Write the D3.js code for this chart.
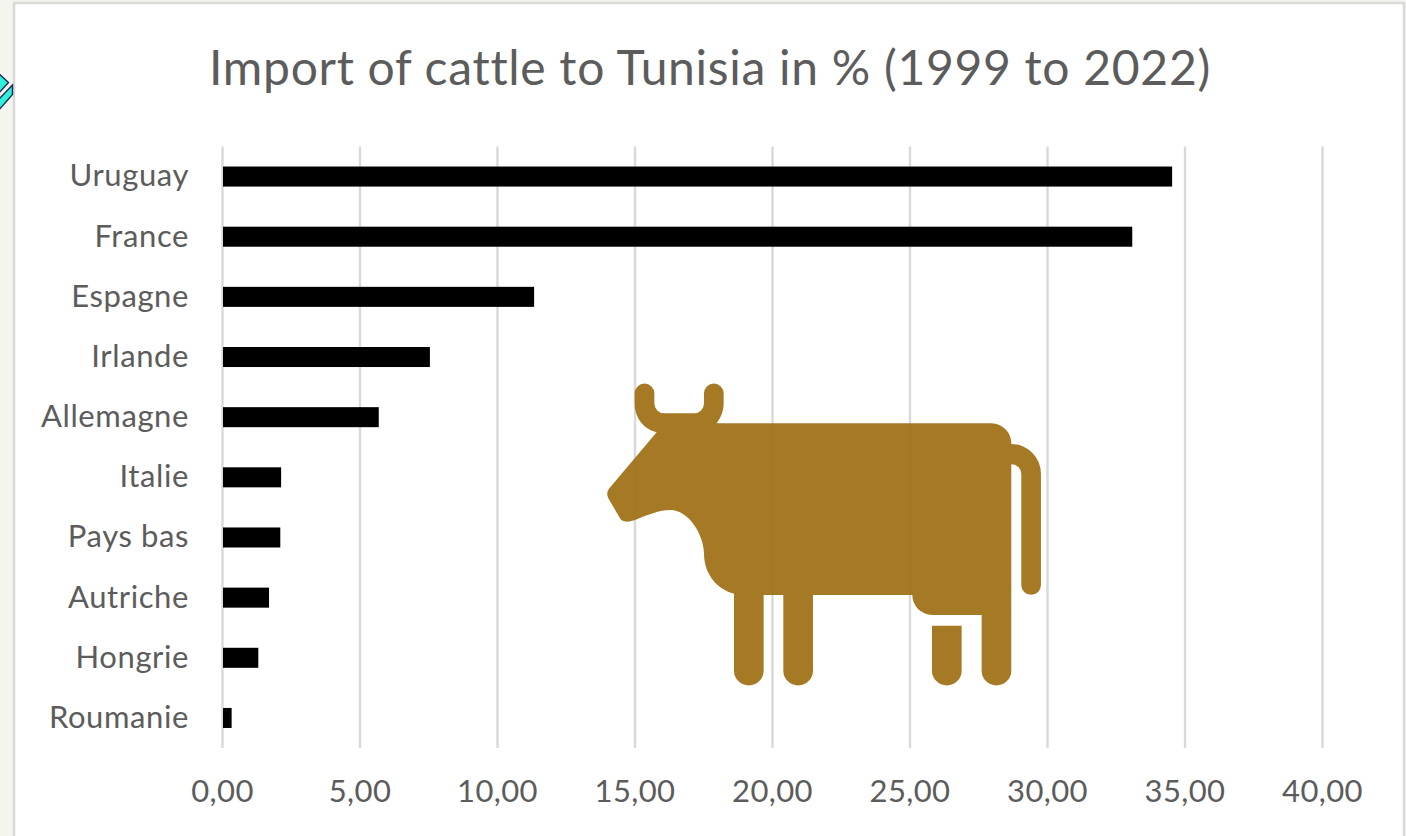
<!DOCTYPE html>
<html>
<head>
<meta charset="utf-8">
<script src="https://cdn.jsdelivr.net/npm/d3@7"></script>
<style>
    html, body { margin: 0; padding: 0; background: #f5f5f0; overflow: hidden; }
    text { font-family: Lato, "Open Sans", sans-serif; fill: #5c5c5c; }
</style>
</head>
<body>
<div id="graph"></div>
<script>
var countries = ['Uruguay', 'France', 'Espagne', 'Irlande', 'Allemagne', 'Italie', 'Pays bas', 'Autriche', 'Hongrie', 'Roumanie'];
var shares = [34.55, 33.1, 11.35, 7.56, 5.7, 2.15, 2.12, 1.71, 1.32, 0.35];
var xTicks = [0, 5, 10, 15, 20, 25, 30, 35, 40];

var width = 1406,
    height = 836;

var svg = d3.select('#graph')
    .append('svg')
        .attr('width', width)
        .attr('height', height)
        .style('display', 'block');

// chart frame, runs off the bottom of the screenshot
svg.append('rect')
    .attr('x', 14)
    .attr('y', 3)
    .attr('width', 1390)
    .attr('height', 850)
    .attr('fill', '#fff')
    .attr('stroke', '#d9d9d9')
    .attr('stroke-width', 2.5);

// bit of another shape peeking out on the left
var peek = svg.append('g')
    .attr('fill', '#2ff0d8')
    .attr('stroke', '#1b2a5c')
    .attr('stroke-width', 1.4);
peek.append('path').attr('d', 'M-2,73 L8.5,82.5 L-2,94 Z');
peek.append('path').attr('d', 'M12.5,85 L12.5,94.5 L-2,111 L-2,100 Z');

svg.append('text')
    .attr('x', 710)
    .attr('y', 85)
    .attr('text-anchor', 'middle')
    .style('font-size', '48px')
    .style('letter-spacing', '0.7px')
    .text('Import of cattle to Tunisia in % (1999 to 2022)');

var x = d3.scaleLinear()
    .domain([0, 40])
    .range([222, 1322]);

var y = d3.scaleBand()
    .domain(countries)
    .range([146.5, 748])
    .paddingInner(0.667)
    .paddingOuter(0.333);

// gridlines come from the bottom axis ticks
var xAxis = svg.append('g')
    .attr('transform', 'translate(0,748)')
    .call(d3.axisBottom(x)
        .tickValues(xTicks)
        .tickSize(-601.5)
        .tickPadding(32)
        .tickFormat(function(d) { return d3.format('.2f')(d).replace('.', ','); }));
xAxis.select('.domain').remove();
xAxis.selectAll('line')
    .attr('stroke', '#d9d9d9')
    .attr('stroke-width', 2.4);
xAxis.selectAll('text')
    .attr('fill', '#5c5c5c')
    .style('font-size', '31px')
    .style('letter-spacing', '0.4px');

svg.append('g')
    .selectAll('rect')
    .data(countries)
    .enter()
    .append('rect')
        .attr('x', x(0) + 1)
        .attr('y', function(d) { return y(d); })
        .attr('width', function(d, i) { return x(shares[i]) - x(0) - 1; })
        .attr('height', y.bandwidth())
        .attr('fill', '#000');

var yAxis = svg.append('g')
    .attr('transform', 'translate(222,0)')
    .call(d3.axisLeft(y).tickSize(0).tickPadding(33));
yAxis.select('.domain').remove();
yAxis.selectAll('text')
    .attr('fill', '#5c5c5c')
    .style('font-size', '31px')
    .style('letter-spacing', '0.6px');

// cow picture placed on top of the chart, gridlines show through a little
var cow = svg.append('g')
    .attr('transform', 'translate(590,370) scale(0.3333)')
    .attr('fill', '#9f7014')
    .attr('fill-opacity', 0.93);
cow.append('path')
    .attr('d', 'M134,70 V100 C134,145 162,178 200,187 L58,355 Q47,368 55,385 L90,445 Q100,462 135,450 ' +
        'C170,435 210,420 240,420 C300,420 342,500 342,550 C342,615 385,660 432,671 V902 ' +
        'A44.5,44.5 0 0 0 521,902 V675 H580 V902 A44.5,44.5 0 0 0 669,902 V675 H967 ' +
        'A60,60 0 0 0 1026,735 H1175 V902 A44.5,44.5 0 0 0 1264,902 V283 ' +
        'A30,28 0 0 1 1294,311 V645 A29.5,29.5 0 0 0 1353,645 V311 A89,89 0 0 0 1264,222 ' +
        'A60,60 0 0 0 1205,160 H380 C395,140 401,120 401,100 V70 A29.5,29.5 0 0 0 342,70 V100 ' +
        'A30,30 0 0 1 312,130 H223 A30,30 0 0 1 193,100 V70 A29.5,29.5 0 0 0 134,70 Z');
cow.append('path')
    .attr('d', 'M1026,767 H1115 V902 A44.5,44.5 0 0 1 1026,902 Z');
</script>
</body>
</html>
